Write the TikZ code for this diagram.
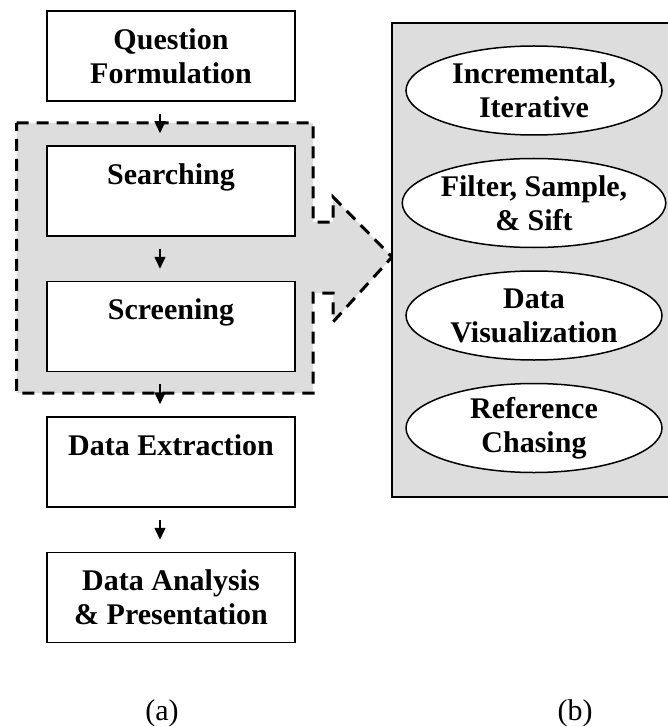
\documentclass[tikz,border=0pt]{standalone}
\usepackage{fontspec}
\setmainfont{Liberation Serif}
\usetikzlibrary{shapes.geometric,arrows.meta}
\definecolor{panelgray}{RGB}{221,221,221}
\begin{document}
\begin{tikzpicture}[x=1pt,y=-1pt,
  stepbox/.style={draw, line width=1.5pt, fill=white, minimum width=248pt, minimum height=90pt,
    inner sep=0pt, align=center, font=\fontsize{30}{34}\selectfont\bfseries},
  oval/.style={ellipse, draw, line width=1.5pt, fill=white, minimum width=256pt, minimum height=89pt,
    inner sep=0pt, align=center, font=\fontsize{30}{34}\selectfont\bfseries},
  flow/.style={line width=1.5pt, -{Triangle[length=12pt,width=11pt]}, shorten <=12pt, shorten >=12pt},
  captext/.style={font=\fontsize{30}{34}\selectfont}
]
\useasboundingbox (0,0) rectangle (668,727);
% gray dashed region with arrow
\draw[fill=panelgray, line width=3pt, dash pattern=on 12pt off 8pt]
  (16.5,123) -- (313,123) -- (313,222) -- (333,222) -- (333,197) -- (392,257)
  -- (333,322) -- (333,293) -- (313,293) -- (313,393) -- (16.5,393) -- cycle;
% right panel
\draw[fill=panelgray, line width=1.5pt] (392,23) rectangle (672,497);
% boxes
\node[stepbox] (q)  at (171,56)  {Question\\Formulation};
\node[stepbox] (s)  at (171,191) {Searching\\\mbox{}};
\node[stepbox] (sc) at (171,326.5) {Screening\\\mbox{}};
\node[stepbox] (de) at (171,462) {Data Extraction\\\mbox{}};
\node[stepbox] (da) at (171,597.5) {Data Analysis\\\& Presentation};
% arrows
\draw[flow] ([xshift=-11pt]q.south) -- ([xshift=-11pt]s.north);
\draw[flow] ([xshift=-11pt]s.south) -- ([xshift=-11pt]sc.north);
\draw[flow] ([xshift=-11pt]sc.south) -- ([xshift=-11pt]de.north);
\draw[flow] ([xshift=-11pt]de.south) -- ([xshift=-11pt]da.north);
% ellipses
\node[oval] (e1) at (534,90.5)  {Incremental,\\Iterative};
\node[oval] (e2) at (534,203)   {Filter, Sample,\\\& Sift};
\node[oval] (e3) at (534,315.5) {Data\\Visualization};
\node[oval] (e4) at (534,428)   {Reference\\Chasing};
% captions
\node[captext] (ca) at (162,713) {(a)};
\node[captext] (cb) at (575,713) {(b)};
\end{tikzpicture}
\end{document}
